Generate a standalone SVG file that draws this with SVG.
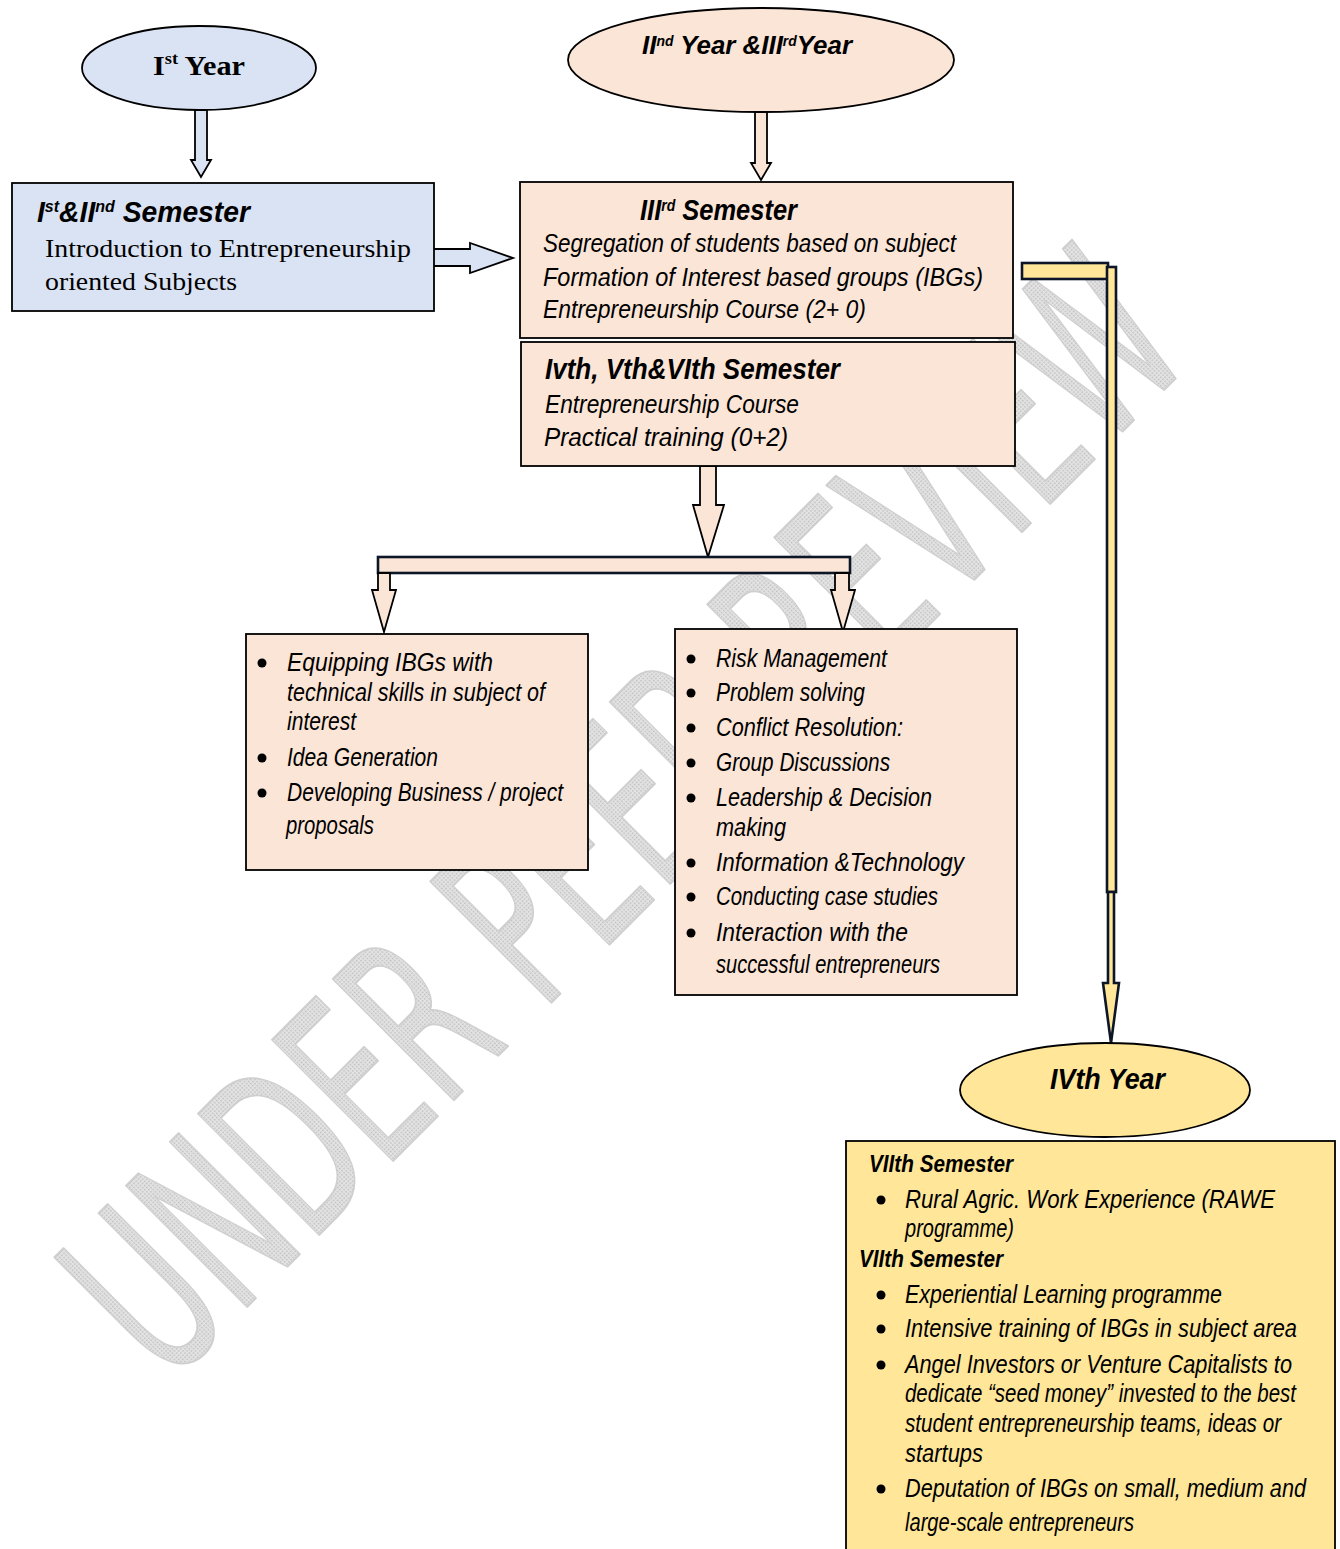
<svg xmlns="http://www.w3.org/2000/svg" width="1340" height="1549" viewBox="0 0 1340 1549">
<defs>
<pattern id="hatch" width="3" height="3" patternUnits="userSpaceOnUse">
<rect width="3" height="3" fill="#e4e4e4"/>
<rect width="1.5" height="1.5" fill="#bcbcbc"/>
</pattern>
</defs>
<style>
.bg{fill:#ffffff}
.blue{fill:#dae3f3;stroke:#000;stroke-width:1.8}
.peach{fill:#fbe5d6;stroke:#000;stroke-width:1.8}
.yel{fill:#ffe699;stroke:#000;stroke-width:1.8}
.bar{fill:#fbe5d6;stroke:#0d1626;stroke-width:2.6}
.ybar{fill:#ffe699;stroke:#0d1626;stroke-width:2.6}
.it{font-family:'Liberation Sans Narrow','Liberation Sans',sans-serif;font-style:italic;fill:#000}
.hd{font-family:'Liberation Sans Narrow','Liberation Sans',sans-serif;font-style:italic;font-weight:bold;fill:#000}
.tm{font-family:'Liberation Serif','Times New Roman',serif;fill:#000}
.wm{font-family:'DejaVu Sans',sans-serif;font-weight:normal;fill:url(#hatch);stroke:#cfcfcf;stroke-width:2;stroke-linejoin:round}
.dot{fill:#000}
</style>
<rect class="bg" x="0" y="0" width="1340" height="1549"/>
<g id="watermark">
<text class="wm" transform="translate(167,1387) rotate(-45)" font-size="235" textLength="1456" lengthAdjust="spacingAndGlyphs">UNDER PEER REVIEW</text>
</g>
<g id="connectors">
<polygon class="blue" points="195,110 207,110 207,160 211,160 201,177 191,160 195,160"/>
<polygon class="blue" points="428,249 470,249 470,243 513,258 470,273 470,266 428,266"/>
<polygon class="peach" points="755,112 767,112 767,163 771,163 761,180 751,163 755,163"/>
<polygon class="peach" points="700,466 716,466 716,505 724,505 708,557 693,505 700,505"/>
<rect class="bar" x="378" y="557" width="472" height="16"/>
<polygon class="peach" points="378,573 390,573 390,590 396,590 384,632 372,590 378,590"/>
<polygon class="peach" points="835,573 849,573 849,590 855,590 843,632 831,590 835,590"/>
<rect class="ybar" x="1022" y="263" width="86" height="16"/>
<rect class="ybar" x="1107" y="267" width="9" height="625"/>
<polygon class="ybar" points="1108,892 1114,892 1114,983 1119,983 1111,1043 1103,983 1108,983"/>
</g>
<g id="year1">
<ellipse class="blue" cx="199" cy="68" rx="117" ry="42"/>
<text class="tm" x="153" y="75" font-size="28" font-weight="bold" textLength="92" lengthAdjust="spacingAndGlyphs">I<tspan font-size="17" dy="-11">st</tspan><tspan dy="11"> Year</tspan></text>
</g>
<g id="sem12">
<rect class="blue" x="12" y="183" width="422" height="128"/>
<text class="hd" x="37" y="222" font-size="30" textLength="213" lengthAdjust="spacingAndGlyphs">I<tspan font-size="17" dy="-10">st</tspan><tspan dy="10">&amp;II</tspan><tspan font-size="17" dy="-10">nd</tspan><tspan dy="10"> Semester</tspan></text>
<text class="tm" x="45" y="257" font-size="26" textLength="366" lengthAdjust="spacingAndGlyphs">Introduction to Entrepreneurship</text>
<text class="tm" x="45" y="290" font-size="26" textLength="192" lengthAdjust="spacingAndGlyphs">oriented Subjects</text>
</g>
<g id="year23">
<ellipse class="peach" cx="761" cy="60" rx="193" ry="52"/>
<text class="hd" x="642" y="54" font-size="26" textLength="210" lengthAdjust="spacingAndGlyphs">II<tspan font-size="14" dy="-8">nd</tspan><tspan dy="8"> Year &amp;III</tspan><tspan font-size="14" dy="-8">rd</tspan><tspan dy="8">Year</tspan></text>
</g>
<g id="sem3">
<rect class="peach" x="520" y="182" width="493" height="156"/>
<text class="hd" x="640" y="220" font-size="29" textLength="157" lengthAdjust="spacingAndGlyphs">III<tspan font-size="16" dy="-9">rd</tspan><tspan dy="9"> Semester</tspan></text>
<text class="it" x="543" y="252" font-size="26" textLength="413" lengthAdjust="spacingAndGlyphs">Segregation of students based on subject</text>
<text class="it" x="543" y="286" font-size="26" textLength="440" lengthAdjust="spacingAndGlyphs">Formation of Interest based groups (IBGs)</text>
<text class="it" x="543" y="318" font-size="26" textLength="323" lengthAdjust="spacingAndGlyphs">Entrepreneurship Course (2+ 0)</text>
</g>
<g id="sem456">
<rect class="peach" x="521" y="342" width="494" height="124"/>
<text class="hd" x="545" y="379" font-size="29" textLength="295" lengthAdjust="spacingAndGlyphs">Ivth, Vth&amp;VIth Semester</text>
<text class="it" x="545" y="413" font-size="26" textLength="254" lengthAdjust="spacingAndGlyphs">Entrepreneurship Course</text>
<text class="it" x="544" y="446" font-size="26" textLength="244" lengthAdjust="spacingAndGlyphs">Practical training (0+2)</text>
</g>
<g id="techskills">
<rect class="peach" x="246" y="634" width="342" height="236"/>
<circle class="dot" cx="262" cy="663" r="4.5"/>
<circle class="dot" cx="262" cy="758" r="4.5"/>
<circle class="dot" cx="262" cy="793" r="4.5"/>
<text class="it" x="287" y="671" font-size="25" textLength="206" lengthAdjust="spacingAndGlyphs">Equipping IBGs with</text>
<text class="it" x="287" y="701" font-size="25" textLength="258" lengthAdjust="spacingAndGlyphs">technical skills in subject of</text>
<text class="it" x="287" y="730" font-size="25" textLength="69" lengthAdjust="spacingAndGlyphs">interest</text>
<text class="it" x="287" y="766" font-size="25" textLength="151" lengthAdjust="spacingAndGlyphs">Idea Generation</text>
<text class="it" x="287" y="801" font-size="25" textLength="276" lengthAdjust="spacingAndGlyphs">Developing Business / project</text>
<text class="it" x="286" y="834" font-size="25" textLength="88" lengthAdjust="spacingAndGlyphs">proposals</text>
</g>
<g id="softskills">
<rect class="peach" x="675" y="629" width="342" height="366"/>
<circle class="dot" cx="691" cy="659" r="4.5"/>
<circle class="dot" cx="691" cy="693" r="4.5"/>
<circle class="dot" cx="691" cy="728" r="4.5"/>
<circle class="dot" cx="691" cy="763" r="4.5"/>
<circle class="dot" cx="691" cy="798" r="4.5"/>
<circle class="dot" cx="691" cy="863" r="4.5"/>
<circle class="dot" cx="691" cy="897" r="4.5"/>
<circle class="dot" cx="691" cy="933" r="4.5"/>
<text class="it" x="716" y="667" font-size="25" textLength="171" lengthAdjust="spacingAndGlyphs">Risk Management</text>
<text class="it" x="716" y="701" font-size="25" textLength="149" lengthAdjust="spacingAndGlyphs">Problem solving</text>
<text class="it" x="716" y="736" font-size="25" textLength="187" lengthAdjust="spacingAndGlyphs">Conflict Resolution:</text>
<text class="it" x="716" y="771" font-size="25" textLength="174" lengthAdjust="spacingAndGlyphs">Group Discussions</text>
<text class="it" x="716" y="806" font-size="25" textLength="216" lengthAdjust="spacingAndGlyphs">Leadership &amp; Decision</text>
<text class="it" x="716" y="836" font-size="25" textLength="70" lengthAdjust="spacingAndGlyphs">making</text>
<text class="it" x="716" y="871" font-size="25" textLength="248" lengthAdjust="spacingAndGlyphs">Information &amp;Technology</text>
<text class="it" x="716" y="905" font-size="25" textLength="222" lengthAdjust="spacingAndGlyphs">Conducting case studies</text>
<text class="it" x="716" y="941" font-size="25" textLength="192" lengthAdjust="spacingAndGlyphs">Interaction with the</text>
<text class="it" x="716" y="973" font-size="25" textLength="224" lengthAdjust="spacingAndGlyphs">successful entrepreneurs</text>
</g>
<g id="year4">
<ellipse class="yel" cx="1105" cy="1090" rx="145" ry="47"/>
<text class="hd" x="1050" y="1089" font-size="30" textLength="115" lengthAdjust="spacingAndGlyphs">IVth Year</text>
</g>
<g id="sem7">
<rect class="yel" x="846" y="1141" width="489" height="420"/>
<text class="hd" x="869" y="1172" font-size="24" textLength="144" lengthAdjust="spacingAndGlyphs">VIIth Semester</text>
<circle class="dot" cx="881" cy="1200" r="4.5"/>
<text class="it" x="905" y="1208" font-size="25" textLength="370" lengthAdjust="spacingAndGlyphs">Rural Agric. Work Experience (RAWE</text>
<text class="it" x="905" y="1237" font-size="25" textLength="109" lengthAdjust="spacingAndGlyphs">programme)</text>
<text class="hd" x="859" y="1267" font-size="24" textLength="144" lengthAdjust="spacingAndGlyphs">VIIth Semester</text>
<circle class="dot" cx="881" cy="1295" r="4.5"/>
<circle class="dot" cx="881" cy="1329" r="4.5"/>
<circle class="dot" cx="881" cy="1365" r="4.5"/>
<circle class="dot" cx="881" cy="1489" r="4.5"/>
<text class="it" x="905" y="1303" font-size="25" textLength="317" lengthAdjust="spacingAndGlyphs">Experiential Learning programme</text>
<text class="it" x="905" y="1337" font-size="25" textLength="392" lengthAdjust="spacingAndGlyphs">Intensive training of IBGs in subject area</text>
<text class="it" x="905" y="1373" font-size="25" textLength="387" lengthAdjust="spacingAndGlyphs">Angel Investors or Venture Capitalists to</text>
<text class="it" x="905" y="1402" font-size="25" textLength="391" lengthAdjust="spacingAndGlyphs">dedicate “seed money” invested to the best</text>
<text class="it" x="905" y="1432" font-size="25" textLength="376" lengthAdjust="spacingAndGlyphs">student entrepreneurship teams, ideas or</text>
<text class="it" x="905" y="1462" font-size="25" textLength="78" lengthAdjust="spacingAndGlyphs">startups</text>
<text class="it" x="905" y="1497" font-size="25" textLength="401" lengthAdjust="spacingAndGlyphs">Deputation of IBGs on small, medium and</text>
<text class="it" x="905" y="1531" font-size="25" textLength="229" lengthAdjust="spacingAndGlyphs">large-scale entrepreneurs</text>
</g>
</svg>
